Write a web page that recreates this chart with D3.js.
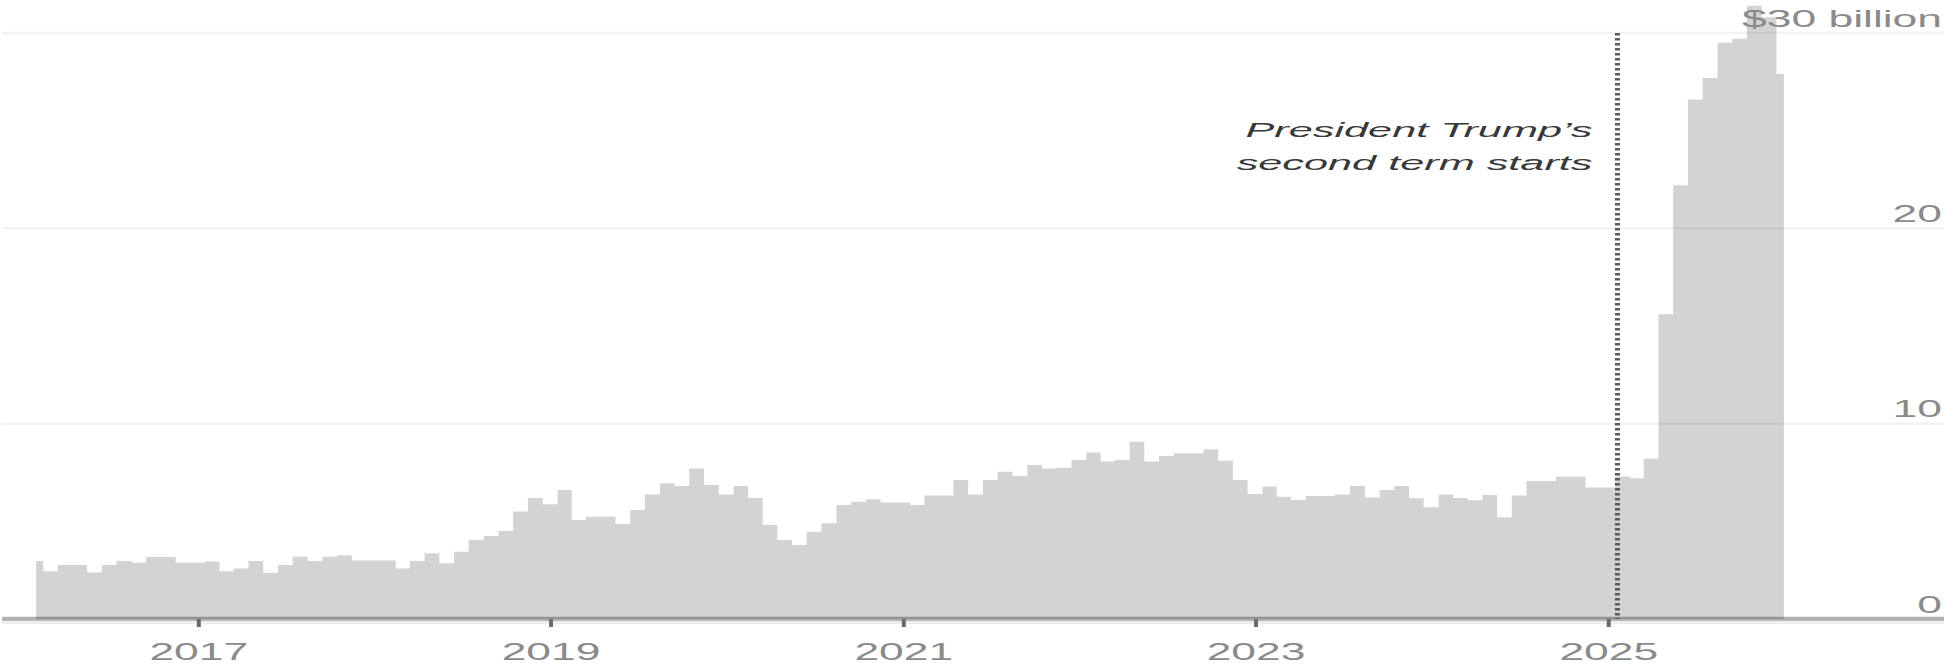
<!DOCTYPE html>
<html>
<head>
<meta charset="utf-8">
<script src="https://cdn.jsdelivr.net/npm/d3@7"></script>
<style>
  html, body { margin: 0; padding: 0; background: #ffffff; }
  svg { display: block; }
</style>
</head>
<body>
<svg id="chart" width="1944" height="665"></svg>
<script>
// Monthly U.S. customs duties collected, in billions of dollars (Jan..Dec)
const duties2016 = [2.97, 2.45, 2.76, 2.76, 2.38, 2.76, 2.97, 2.88, 3.17, 3.17, 2.88, 2.88];
const duties2017 = [2.95, 2.45, 2.59, 2.97, 2.36, 2.76, 3.19, 2.97, 3.19, 3.27, 3.0, 3.0];
const duties2018 = [3.0, 2.59, 2.97, 3.36, 2.85, 3.44, 4.04, 4.25, 4.5, 5.5, 6.2, 5.87];
const duties2019 = [6.6, 5.07, 5.24, 5.24, 4.86, 5.58, 6.38, 6.95, 6.81, 7.71, 6.86, 6.38];
const duties2020 = [6.81, 6.2, 4.81, 4.04, 3.79, 4.47, 4.9, 5.84, 6.0, 6.13, 5.96, 5.96];
const duties2021 = [5.84, 6.32, 6.32, 7.12, 6.38, 7.12, 7.54, 7.32, 7.89, 7.71, 7.74, 8.14];
const duties2022 = [8.52, 8.06, 8.14, 9.08, 8.06, 8.35, 8.48, 8.48, 8.69, 8.1, 7.12, 6.4];
const duties2023 = [6.78, 6.26, 6.09, 6.3, 6.3, 6.38, 6.81, 6.22, 6.6, 6.81, 6.18, 5.72];
const duties2024 = [6.38, 6.19, 6.08, 6.35, 5.21, 6.32, 7.06, 7.06, 7.28, 7.28, 6.73, 6.73];
const duties2025 = [7.3, 7.2, 8.2, 15.6, 22.2, 26.6, 27.7, 29.5, 29.7, 31.4, 30.8, 27.9];

const firstYear = 2016;
const yearTicks = [2017, 2019, 2021, 2023, 2025];
const valueTicks = [0, 10, 20, 30];
const valueTickLabels = ["0", "10", "20", "$30 billion"];
const annotationLines = ["President Trump\u2019s", "second term starts"];
const termStart = new Date(Date.UTC(2025, 0, 20));

// Each month is dated at its last day
const yearly = [duties2016, duties2017, duties2018, duties2019, duties2020,
                duties2021, duties2022, duties2023, duties2024, duties2025];
const data = yearly.flatMap((vals, k) =>
  vals.map((v, m) => ({ date: new Date(Date.UTC(firstYear + k, m + 1, 0)), value: v })));

const W = 1944, H = 665;
const svg = d3.select("#chart");

const x = d3.scaleUtc()
  .domain([new Date(Date.UTC(2016, 0, 1)), new Date(Date.UTC(2026, 0, 1))])
  .range([21.7, 1784.4]);
const y = d3.scaleLinear().domain([0, 30]).range([619, 33]);

// Typography is drawn horizontally widened
const AXIS_SX = 1.89;
const NOTE_SX = 2.06;

// Stepped area of monthly collections
const area = d3.area()
  .x(d => x(d.date))
  .y0(y(0))
  .y1(d => y(d.value))
  .curve(d3.curveStep);

svg.append("path")
  .datum(data)
  .attr("d", area)
  .attr("fill", "#d3d3d3");

// Horizontal gridlines
svg.append("g")
  .selectAll("line")
  .data(valueTicks.filter(v => v > 0))
  .join("line")
  .attr("x1", 2).attr("x2", W)
  .attr("y1", d => y(d)).attr("y2", d => y(d))
  .attr("stroke", "rgba(0,0,0,0.05)")
  .attr("stroke-width", 2.5);

// Baseline
svg.append("line")
  .attr("x1", 2).attr("x2", W)
  .attr("y1", y(0) + 3).attr("y2", y(0) + 3)
  .attr("stroke", "rgba(0,0,0,0.07)")
  .attr("stroke-width", 4);
svg.append("line")
  .attr("x1", 2).attr("x2", W)
  .attr("y1", y(0) - 0.3).attr("y2", y(0) - 0.3)
  .attr("stroke", "rgba(0,0,0,0.3)")
  .attr("stroke-width", 4);

// Year axis
const xAxis = d3.axisBottom(x)
  .tickValues(yearTicks.map(yr => new Date(Date.UTC(yr, 0, 1))))
  .tickFormat(d3.utcFormat("%Y"))
  .tickSize(8)
  .tickPadding(0);

const gx = svg.append("g")
  .attr("transform", `translate(0,${y(0)})`)
  .call(xAxis);
gx.select(".domain").remove();
gx.selectAll(".tick line")
  .attr("stroke", "#6a6a6a")
  .attr("stroke-width", 4);
gx.selectAll(".tick text")
  .attr("x", 0)
  .attr("y", 0)
  .attr("dy", 0)
  .attr("transform", `translate(0,41) scale(${AXIS_SX},1)`)
  .attr("fill", "#8a8a8a")
  .attr("font-family", "'Liberation Sans', Arial, sans-serif")
  .attr("font-size", 23.5)
  .attr("text-anchor", "middle");

// Value labels on the right
svg.append("g")
  .selectAll("text")
  .data(valueTicks)
  .join("text")
  .attr("transform", d => `translate(1942,${y(d) - 6.5}) scale(${AXIS_SX},1)`)
  .attr("text-anchor", "end")
  .attr("fill", "#8a8a8a")
  .attr("font-family", "'Liberation Sans', Arial, sans-serif")
  .attr("font-size", 23.5)
  .text((d, i) => valueTickLabels[i]);

// Start of the second term
const xs = x(termStart);
svg.append("line")
  .attr("x1", xs).attr("x2", xs)
  .attr("y1", y(30)).attr("y2", y(0))
  .attr("stroke", "#5a5a5a")
  .attr("stroke-width", 5)
  .attr("stroke-dasharray", "2.5,2.5");

svg.append("g")
  .selectAll("text")
  .data(annotationLines)
  .join("text")
  .attr("transform", (d, i) => `translate(${xs - 25},${136.5 + i * 33}) scale(${NOTE_SX},1)`)
  .attr("text-anchor", "end")
  .attr("fill", "#383838")
  .attr("font-family", "'Liberation Sans', Arial, sans-serif")
  .attr("font-style", "italic")
  .attr("font-size", 21)
  .text(d => d);
</script>
</body>
</html>
